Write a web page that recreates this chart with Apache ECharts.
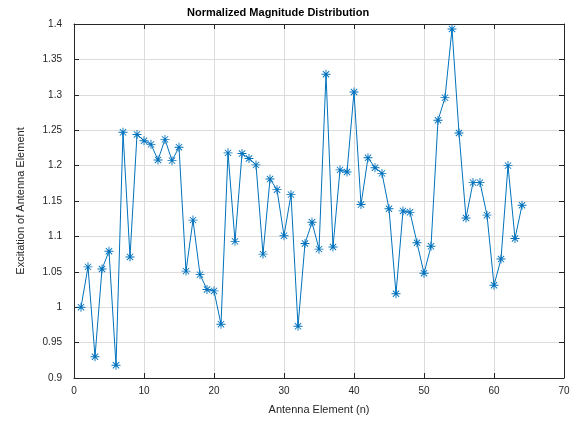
<!DOCTYPE html>
<html><head><meta charset="utf-8">
<script src="https://cdn.jsdelivr.net/npm/echarts@6/dist/echarts.min.js"></script>
<style>html,body{margin:0;padding:0;background:#fff}#c{width:579px;height:421px}</style>
</head><body><div id="c"></div>
<script>
const elements = [1,2,3,4,5,6,7,8,9,10,11,12,13,14,15,16,17,18,19,20,21,22,23,24,25,26,27,28,29,30,31,32,33,34,35,36,37,38,39,40,41,42,43,44,45,46,47,48,49,50,51,52,53,54,55,56,57,58,59,60,61,62,63,64];
const excitation = [1.000,1.057,0.930,1.054,1.079,0.918,1.247,1.071,1.244,1.235,1.230,1.208,1.237,1.207,1.226,1.051,1.123,1.046,1.025,1.023,0.976,1.218,1.093,1.217,1.210,1.201,1.075,1.181,1.166,1.101,1.159,0.973,1.090,1.120,1.082,1.329,1.085,1.194,1.191,1.304,1.145,1.211,1.197,1.189,1.139,1.019,1.136,1.134,1.091,1.048,1.086,1.264,1.296,1.393,1.246,1.126,1.176,1.176,1.130,1.031,1.068,1.200,1.097,1.144];
const titleText = 'Normalized Magnitude Distribution';
const xName = 'Antenna Element (n)';
const yName = 'Excitation of Antenna Element';

const star = 'path://M0 9L20 9L20 11L0 11Z M9 0L11 0L11 20L9 20Z M2.3 3.7L3.7 2.3L17.7 16.3L16.3 17.7Z M16.3 2.3L17.7 3.7L3.7 17.7L2.3 16.3Z';
const axisCol = '#262626';
const font = 'Liberation Sans, Arial, sans-serif';
const chart = echarts.init(document.getElementById('c'), null, {renderer:'canvas'});
const gridLine = {show:true, lineStyle:{color:'#dcdcdc', width:1}};
chart.setOption({
  animation:false,
  title:{text:titleText, left:182, top:2, textStyle:{fontFamily:font, fontSize:11, fontWeight:'bold', color:'#000'}},
  grid:{left:74, right:15, top:24, bottom:43},
  xAxis:[{type:'value', min:0, max:70, interval:10, name:xName, nameLocation:'middle', nameGap:26,
    nameTextStyle:{fontFamily:font, fontSize:11, color:axisCol},
    axisLine:{show:true, onZero:false, lineStyle:{color:axisCol}},
    axisTick:{show:true, inside:true, length:5, lineStyle:{color:axisCol}},
    axisLabel:{fontFamily:font, fontSize:10, color:axisCol, margin:8},
    splitLine:gridLine},
    {type:'value', position:'top', min:0, max:70, interval:10,
    axisLine:{show:true, onZero:false, lineStyle:{color:axisCol}},
    axisTick:{show:true, inside:true, length:5, lineStyle:{color:axisCol}},
    axisLabel:{show:false}, splitLine:{show:false}}],
  yAxis:[{type:'value', min:0.9, max:1.4, interval:0.05, name:yName, nameLocation:'middle', nameGap:48,
    nameTextStyle:{fontFamily:font, fontSize:11, color:axisCol},
    axisLine:{show:true, onZero:false, lineStyle:{color:axisCol}},
    axisTick:{show:true, inside:true, length:5, lineStyle:{color:axisCol}},
    axisLabel:{fontFamily:font, fontSize:10, color:axisCol, margin:12,
      formatter:v=>String(parseFloat(v.toFixed(2)))},
    splitLine:gridLine},
    {type:'value', position:'right', min:0.9, max:1.4, interval:0.05,
    axisLine:{show:true, onZero:false, lineStyle:{color:axisCol}},
    axisTick:{show:true, inside:true, length:5, lineStyle:{color:axisCol}},
    axisLabel:{show:false}, splitLine:{show:false}}],
  series:[{type:'line', data:elements.map((n,i)=>[n, excitation[i]]),
    lineStyle:{color:'#0072BD', width:1}, itemStyle:{color:'#0072BD'},
    symbol:star, symbolSize:9, showAllSymbol:true}]
});
</script></body></html>
